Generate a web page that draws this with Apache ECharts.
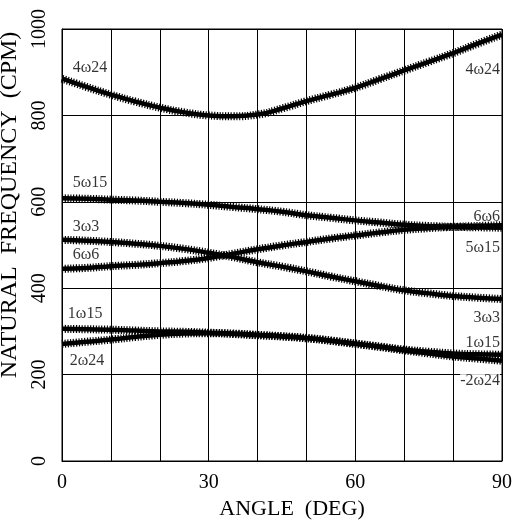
<!DOCTYPE html>
<html>
<head>
<meta charset="utf-8">
<script src="https://cdn.jsdelivr.net/npm/echarts@6/dist/echarts.min.js"></script>
<style>html,body{margin:0;padding:0;background:#fff;}#c{width:515px;height:525px;}</style>
</head>
<body>
<div id="c"></div>
<script>
// Angles (deg)
const angles = [0,5,10,15,20,25,30,35,40,45,50,55,60,65,70,75,80,85,90];
// Natural frequencies (CPM)
const f4w24 = [885,866,848,832,818,807,800,798,802,816,833,848,864,884,904,924,944,966,987];
const f5w15 = [608,607,605,603,600,597,593,588,583,577,569,563,557,552,547,544,542,541,540];
const f3w3  = [512,510,507,503,498,491,482,472,460,450,439,427,416,405,395,388,382,378,375];
const f6w6  = [445,447,451,454,458,463,470,480,490,499,507,515,522,529,535,539,542,544,546];
const f1w15 = [306,305,304,302,300,299,297,295,292,289,285,279,272,265,258,253,249,247,246];
const f2w24 = [271,276,281,287,292,295,296,294,291,288,284,278,271,264,256,249,242,237,232];
const yTicks = [0,200,400,600,800,1000];
const xTicks = [0,30,60,90];
// curve label annotations: [angle, freq, text, side]
const curveLabels = [
  [2.2, 910, '4ω24', 'L'], [89.6, 905, '4ω24', 'R'],
  [2.2, 643, '5ω15', 'L'], [2.2, 542, '3ω3', 'L'], [2.2, 477, '6ω6', 'L'],
  [1.2, 340, '1ω15', 'L'], [1.6, 231, '2ω24', 'L'],
  [89.6, 565, '6ω6', 'R'], [89.6, 493, '5ω15', 'R'], [89.6, 331, '3ω3', 'R'],
  [89.6, 273, '1ω15', 'R'], [89.6, 185, '-2ω24', 'R']
];

const FONT = 'Liberation Serif';
const curves = [f4w24, f5w15, f3w3, f6w6, f1w15, f2w24];
const series = [];
curves.forEach(vals => {
  const d = angles.map((a, i) => [a, vals[i]]);
  series.push({type:'line', data:d, smooth:true, showSymbol:false, silent:true,
    lineStyle:{color:'#000', width:4.5}, z:3});
  series.push({type:'line', data:d, smooth:true, showSymbol:false, silent:true,
    lineStyle:{color:'#000', width:8, type:[1.2,1.6], cap:'butt'}, z:3});
});
series.push({
  type:'scatter', symbolSize:0, z:5, silent:true,
  data: curveLabels.map(l => ({
    value:[l[0], l[1]],
    label:{show:true, formatter:l[2], position: l[3]==='L' ? 'right' : 'left', distance:0,
      color:'#000', fontFamily:FONT, fontSize:16,
      backgroundColor: l[2].startsWith('-') ? '#fff' : 'transparent'}
  }))
});

const chart = echarts.init(document.getElementById('c'), null, {renderer:'canvas'});
chart.setOption({
  animation:false,
  backgroundColor:'#fff',
  grid:{left:62, right:13, top:29, bottom:64, show:true, borderColor:'#000', borderWidth:1,
    containLabel:false, outerBoundsMode:'none'},
  xAxis:{type:'value', min:0, max:90, interval:10,
    name:'ANGLE  (DEG)', nameLocation:'middle', nameGap:25,
    nameTextStyle:{fontFamily:FONT, fontSize:22, color:'#000', padding:[0,0,12,20]},
    axisLine:{show:true, lineStyle:{color:'#000'}}, axisTick:{show:false},
    axisLabel:{fontFamily:FONT, fontSize:20, color:'#000', margin:12,
      formatter: v => xTicks.includes(v) ? String(v) : ''},
    splitLine:{show:true, lineStyle:{color:'#000', width:1}}},
  yAxis:{type:'value', min:0, max:1000, interval:200,
    name:'NATURAL  FREQUENCY  (CPM)', nameLocation:'middle', nameGap:40, nameRotate:90,
    nameTextStyle:{fontFamily:FONT, fontSize:24, color:'#000', padding:[0,0,0,80]},
    axisLine:{show:true, lineStyle:{color:'#000'}}, axisTick:{show:false},
    axisLabel:{fontFamily:FONT, fontSize:20, color:'#000', margin:12, rotate:90,
      formatter: v => yTicks.includes(v) ? String(v) : ''},
    splitLine:{show:true, lineStyle:{color:'#000', width:1}}},
  series: series
});
</script>
</body>
</html>
